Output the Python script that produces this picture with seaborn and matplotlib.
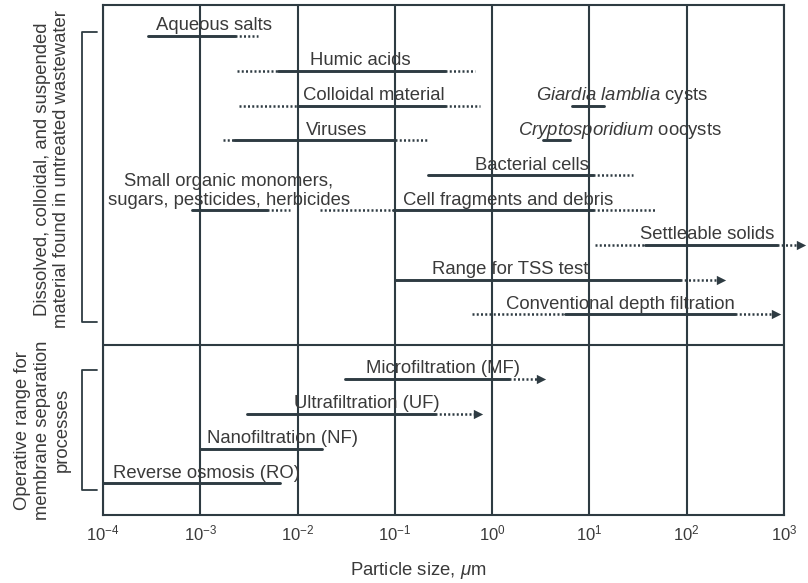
import numpy as np
import pandas as pd
import matplotlib
matplotlib.use('Agg')
import matplotlib.pyplot as plt
import matplotlib.transforms as mtransforms
from matplotlib.ticker import NullLocator
import seaborn as sns

nan = np.nan

# size ranges in micrometres; solid = typical range, dot_* = dotted extensions
names = ['Aqueous salts', 'Humic acids', 'Colloidal material', 'Viruses',
         r'$\mathit{Giardia\ lamblia}$ cysts', r'$\mathit{Cryptosporidium}$ oocysts',
         'Bacterial cells', 'Small organic monomers,\nsugars, pesticides, herbicides',
         'Cell fragments and debris', 'Settleable solids', 'Range for TSS test',
         'Conventional depth filtration',
         'Microfiltration (MF)', 'Ultrafiltration (UF)', 'Nanofiltration (NF)',
         'Reverse osmosis (RO)']
section = ['wastewater'] * 12 + ['membrane'] * 4
row = [1, 2, 3, 4, 3, 4, 5, 6, 6, 7, 8, 9, 1, 2, 3, 4]
dot_lo = [nan, 2.4e-3, 2.5e-3, 1.7e-3, nan, nan, nan, nan, 0.017, 11.5, nan, 0.62,
          nan, nan, nan, nan]
solid_lo = [2.9e-4, 6.3e-3, 0.01, 2.2e-3, 6.6, 3.3, 0.22, 8.2e-4, 0.095, 37, 0.1, 5.6,
            0.031, 3.0e-3, 1.0e-3, 1e-4]
solid_hi = [2.3e-3, 0.33, 0.33, 0.1, 14, 6.3, 11, 4.9e-3, 11, 850, 85, 316,
            1.5, 0.26, 0.018, 6.6e-3]
dot_hi = [3.9e-3, 0.66, 0.75, 0.22, nan, nan, 28, 8.3e-3, 47, 1490, 224, 826,
          3.2, 0.71, nan, nan]
arrow = [False] * 9 + [True] * 5 + [False] * 2

# label centres (log10 um)
label_x = [-2.86, -1.36, -1.215, -1.595, 1.334, 1.313, 0.409, -2.705, 0.162, 2.211,
           0.183, 1.313, -0.506, -1.287, -2.15, -2.941]

line_c = '#2e3b42'
text_c = '#3a3a3a'
fs = 13.3

sns.set_theme(style='white')
plt.rcParams['font.family'] = ['Liberation Sans', 'DejaVu Sans']
plt.rcParams['mathtext.fontset'] = 'custom'
plt.rcParams['mathtext.rm'] = 'Liberation Sans'
plt.rcParams['mathtext.it'] = 'Liberation Sans:italic'
plt.rcParams['mathtext.bf'] = 'Liberation Sans:bold'

df = pd.DataFrame({'name': names, 'section': section, 'row': row, 'dot_lo': dot_lo,
                   'solid_lo': solid_lo, 'solid_hi': solid_hi, 'dot_hi': dot_hi,
                   'arrow': arrow, 'label_x': label_x})
df['y'] = np.where(df['section'] == 'wastewater', df['row'], 9.85 + df['row'])

# long form segments for lineplot
segs = []
for i, r in df.iterrows():
    parts = []
    if not np.isnan(r.dot_lo):
        parts.append(('dotted', r.dot_lo, r.solid_lo))
    parts.append(('solid', r.solid_lo, r.solid_hi))
    if not np.isnan(r.dot_hi):
        parts.append(('dotted', r.solid_hi, r.dot_hi))
    for k, (kind, a, b) in enumerate(parts):
        segs.append({'seg': f'{i}-{k}', 'kind': kind, 'x': a, 'y': r.y})
        segs.append({'seg': f'{i}-{k}', 'kind': kind, 'x': b, 'y': r.y})
segs = pd.DataFrame(segs)

fig = plt.figure(figsize=(8.08, 5.83), dpi=100)
ax = fig.add_axes([103 / 808, 68 / 583, 681 / 808, 510 / 583])
ax.set_xscale('log')

sns.lineplot(data=segs[segs.kind == 'solid'], x='x', y='y', units='seg', estimator=None,
             sort=False, color=line_c, lw=2.1, ax=ax, legend=False)
sns.lineplot(data=segs[segs.kind == 'dotted'], x='x', y='y', units='seg', estimator=None,
             sort=False, color=line_c, lw=1.8, linestyle=(0, (0.8, 0.9)), ax=ax,
             legend=False, clip_on=False)
sns.scatterplot(data=df[df.arrow], x='dot_hi', y='y', marker='>', s=45, color=line_c,
                linewidth=0, ax=ax, legend=False, clip_on=False, zorder=4)

ax.set_xlim(1e-4, 1e3)
ax.set_ylim(14.76, 0.109)
ax.set_yticks([])
ax.set_ylabel('')
ax.xaxis.set_minor_locator(NullLocator())
ax.grid(axis='x', which='major', color=line_c, lw=1.5)
ax.axhline(9.88, color=line_c, lw=1.5)
for s in ax.spines.values():
    s.set_color(line_c)
    s.set_linewidth(1.5)
ax.tick_params(axis='x', length=0, pad=6, labelsize=12, labelcolor=text_c)

for _, r in df.iterrows():
    ax.annotate(r['name'], xy=(10 ** r.label_x, r.y), xytext=(0, 4),
                textcoords='offset points', ha='center', va='baseline',
                multialignment='center', fontsize=fs, color=text_c, linespacing=1.15)

trans = mtransforms.blended_transform_factory(ax.transAxes, ax.transData)
for top, bot in [(0.885, 9.22), (10.6, 14.05)]:
    ax.plot([-0.009, -0.0308, -0.0308, -0.009], [top, top, bot, bot], transform=trans,
            clip_on=False, color=line_c, lw=1.3)
ax.text(-0.075, 4.82, 'Dissolved, colloidal, and suspended\nmaterial found in untreated wastewater',
        transform=trans, rotation=90, ha='center', va='center', multialignment='center',
        fontsize=fs, color=text_c, linespacing=1.15)
ax.text(-0.089, 12.32, 'Operative range for\nmembrane separation\nprocesses',
        transform=trans, rotation=90, ha='center', va='center', multialignment='center',
        fontsize=fs, color=text_c, linespacing=1.25)

ax.set_xlabel(r'Particle size, $\mu$m', fontsize=fs, color=text_c)
ax.xaxis.set_label_coords((418 - 103) / 681, -0.088)

fig.savefig('out.png', dpi=100)
